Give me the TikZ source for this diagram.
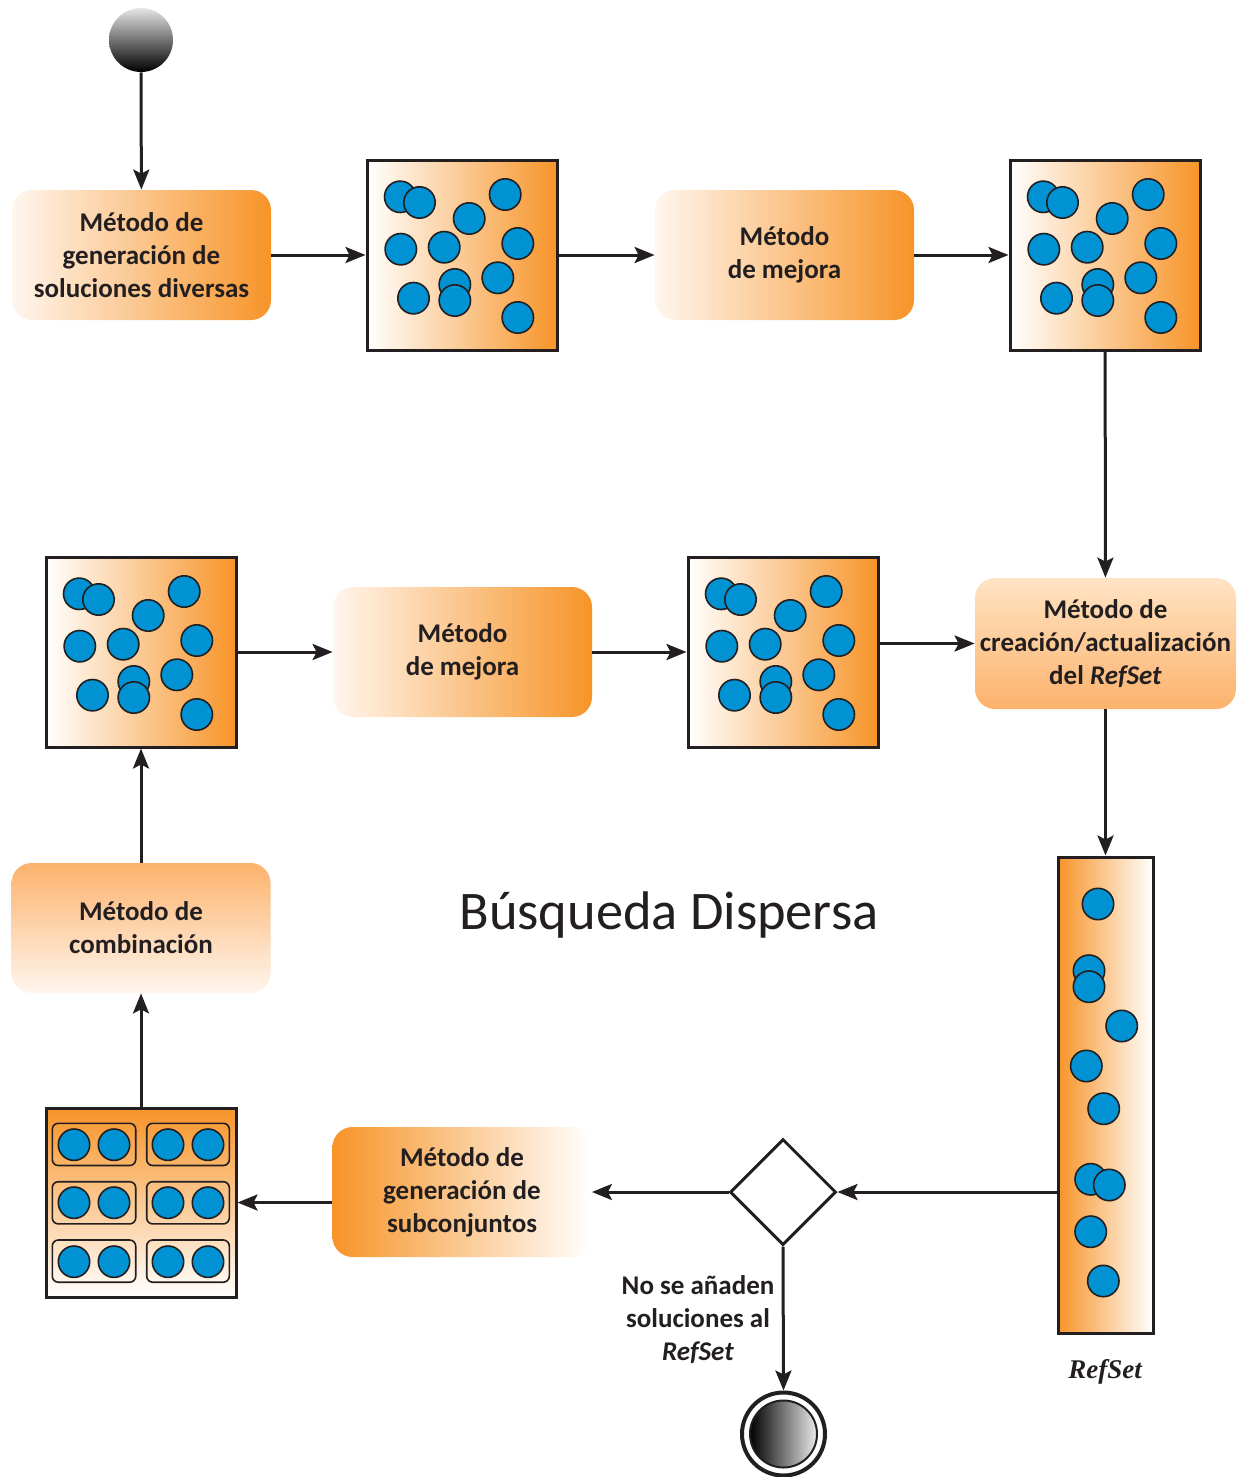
\documentclass[tikz,border=0pt]{standalone}
\usepackage{fontspec}
\setmainfont{Carlito}
\newfontfamily\refsetfont{Liberation Serif}
\usetikzlibrary{shapes.geometric,arrows.meta}
\definecolor{ink}{RGB}{35,31,32}
\definecolor{orng}{RGB}{247,148,40}
\definecolor{blu}{RGB}{0,146,210}
\definecolor{peach}{RGB}{255,228,196}
\definecolor{lorng}{RGB}{252,178,108}
\definecolor{pale}{RGB}{255,246,238}

% scattered solutions inside a square pool (offsets from its top-left corner)
\newcommand\poolballs{%
  \foreach \a/\b in {34.7/38.3, 54/44, 139.7/36, 103.7/60, 35.3/90.7, 78.7/88.7,
                     152.3/85, 89.3/126, 132.3/119.3, 48/139.7, 89.3/142, 152.3/159}
    \draw[ball] (\a,\b) circle[radius=15.7];%
}

\begin{document}
\begin{tikzpicture}[x=0.5pt,y=-0.5pt,
  method/.style={rounded corners=10pt, minimum width=129.5pt, minimum height=65pt,
    inner sep=0pt, align=center, text=ink,
    font=\fontsize{13.5}{16.5}\selectfont\bfseries},
  pool/.style={draw=ink, line width=1.5pt, minimum width=95pt, minimum height=95pt,
    inner sep=0pt},
  ball/.style={draw=ink, fill=blu, line width=0.8pt},
  pair/.style={draw=ink, line width=0.8pt, rounded corners=3pt},
  flow/.style={draw=ink, line width=1.5pt,
    -{Stealth[length=10pt,width=8pt,inset=2pt]}},
  lbl/.style={align=center, text=ink, font=\fontsize{13.5}{16.5}\selectfont\bfseries}]
\useasboundingbox (0,0) rectangle (1243,1477);

% start state
\node[circle, minimum size=32pt, inner sep=0pt, top color=white!90!black,
      bottom color=black] (start) at (141,40) {};

% top row
\node[method, left color=pale, right color=orng] (gen) at (141.5,255)
  {Método de\\generación de\\soluciones diversas};
\node[pool, left color=white, right color=orng] (p1) at (462,255) {};
\node[method, left color=pale, right color=orng] (imp1) at (784.5,255)
  {Método\\de mejora};
\node[pool, left color=white, right color=orng] (p2) at (1105,255) {};

% middle row
\node[method, minimum width=130.5pt, minimum height=65.5pt, top color=peach,
      bottom color=lorng] (upd) at (1105.5,643.5)
  {Método de\\creación/actualización\\del \textit{RefSet}};
\node[pool, left color=white, right color=orng] (p4) at (783,652) {};
\node[method, left color=pale, right color=orng] (imp2) at (462.5,652)
  {Método\\de mejora};
\node[pool, left color=white, right color=orng] (p3) at (141,652) {};

% combination
\node[method, top color=lorng, bottom color=pale] (comb) at (141,928)
  {Método de\\combinación};

% reference set
\node[draw=ink, line width=1.5pt, minimum width=47.5pt, minimum height=238pt,
      inner sep=0pt, left color=orng, right color=white] (rs) at (1105.5,1095) {};
\node[text=ink, font=\refsetfont\fontsize{13.5}{16}\selectfont\bfseries\itshape]
  (rslbl) at (1105,1372) {RefSet};

% decision and subsets
\node[diamond, draw=ink, line width=1.5pt, minimum width=53pt, minimum height=53pt,
      inner sep=0pt, aspect=1, fill=white] (dec) at (783,1192) {};
\node[method, left color=orng, right color=white] (subm) at (462,1192)
  {Método de\\generación de\\subconjuntos};
\node[pool, minimum height=94.5pt, top color=orng, bottom color=white] (sub)
  at (141,1202.5) {};

% end state
\node[circle, draw=ink, line width=2pt, minimum size=41.5pt, inner sep=0pt,
      fill=white] (stop) at (783.5,1434) {};
\node[circle, draw=ink, line width=1pt, minimum size=33.5pt, inner sep=0pt,
      left color=black, right color=white!92!black] (stopcore) at (stop) {};

\node[lbl] (nolbl) at (698,1320) {No se añaden\\soluciones al\\\textit{RefSet}};

% title
\node[text=ink, font=\fontsize{27.2}{30}\selectfont] (title) at (669,915)
  {Búsqueda Dispersa};

% solutions inside pools
\begin{scope}[shift={(p1.north west)}]\poolballs\end{scope}
\begin{scope}[shift={(p2.north west)}]\poolballs\end{scope}
\begin{scope}[shift={(p3.north west)}]\poolballs\end{scope}
\begin{scope}[shift={(p4.north west)}]\poolballs\end{scope}

% solutions inside the reference set
\foreach \a/\b in {1098/904, 1089/970.7, 1089/986.7, 1121.7/1026, 1086.3/1066,
                   1103.7/1108.7, 1090.7/1179.3, 1109.3/1185, 1090.7/1231.7, 1103.3/1281}
  \draw[ball] (\a,\b) circle[radius=15.7];

% subsets: pairs of solutions
\foreach \y in {1123.3, 1181.7, 1240} {
  \draw[pair] (52.3,\y) rectangle ++(83.4,42.2);
  \draw[pair] (146.7,\y) rectangle ++(82.6,42.2);
}
\foreach \y in {1144.7, 1202.7, 1261.7}
  \foreach \a in {74, 114, 168, 208}
    \draw[ball] (\a,\y) circle[radius=15.7];

% connectors
\draw[flow] (start) -- (gen);
\draw[flow] (gen) -- (p1);
\draw[flow] (p1) -- (imp1);
\draw[flow] (imp1) -- (p2);
\draw[flow] (p2) -- (upd);
\draw[flow] (p4.east |- upd.west) -- (upd.west);
\draw[flow] (upd) -- (rs);
\draw[flow] (rs.west |- dec.east) -- (dec.east);
\draw[flow] (dec.west) -- (subm.east);
\draw[flow] (subm.west |- sub.east) -- (sub.east);
\draw[flow] (sub) -- (comb);
\draw[flow] (comb) -- (p3);
\draw[flow] (p3) -- (imp2);
\draw[flow] (imp2) -- (p4);
\draw[flow] (dec.south) -- (stop.north);
\end{tikzpicture}
\end{document}
